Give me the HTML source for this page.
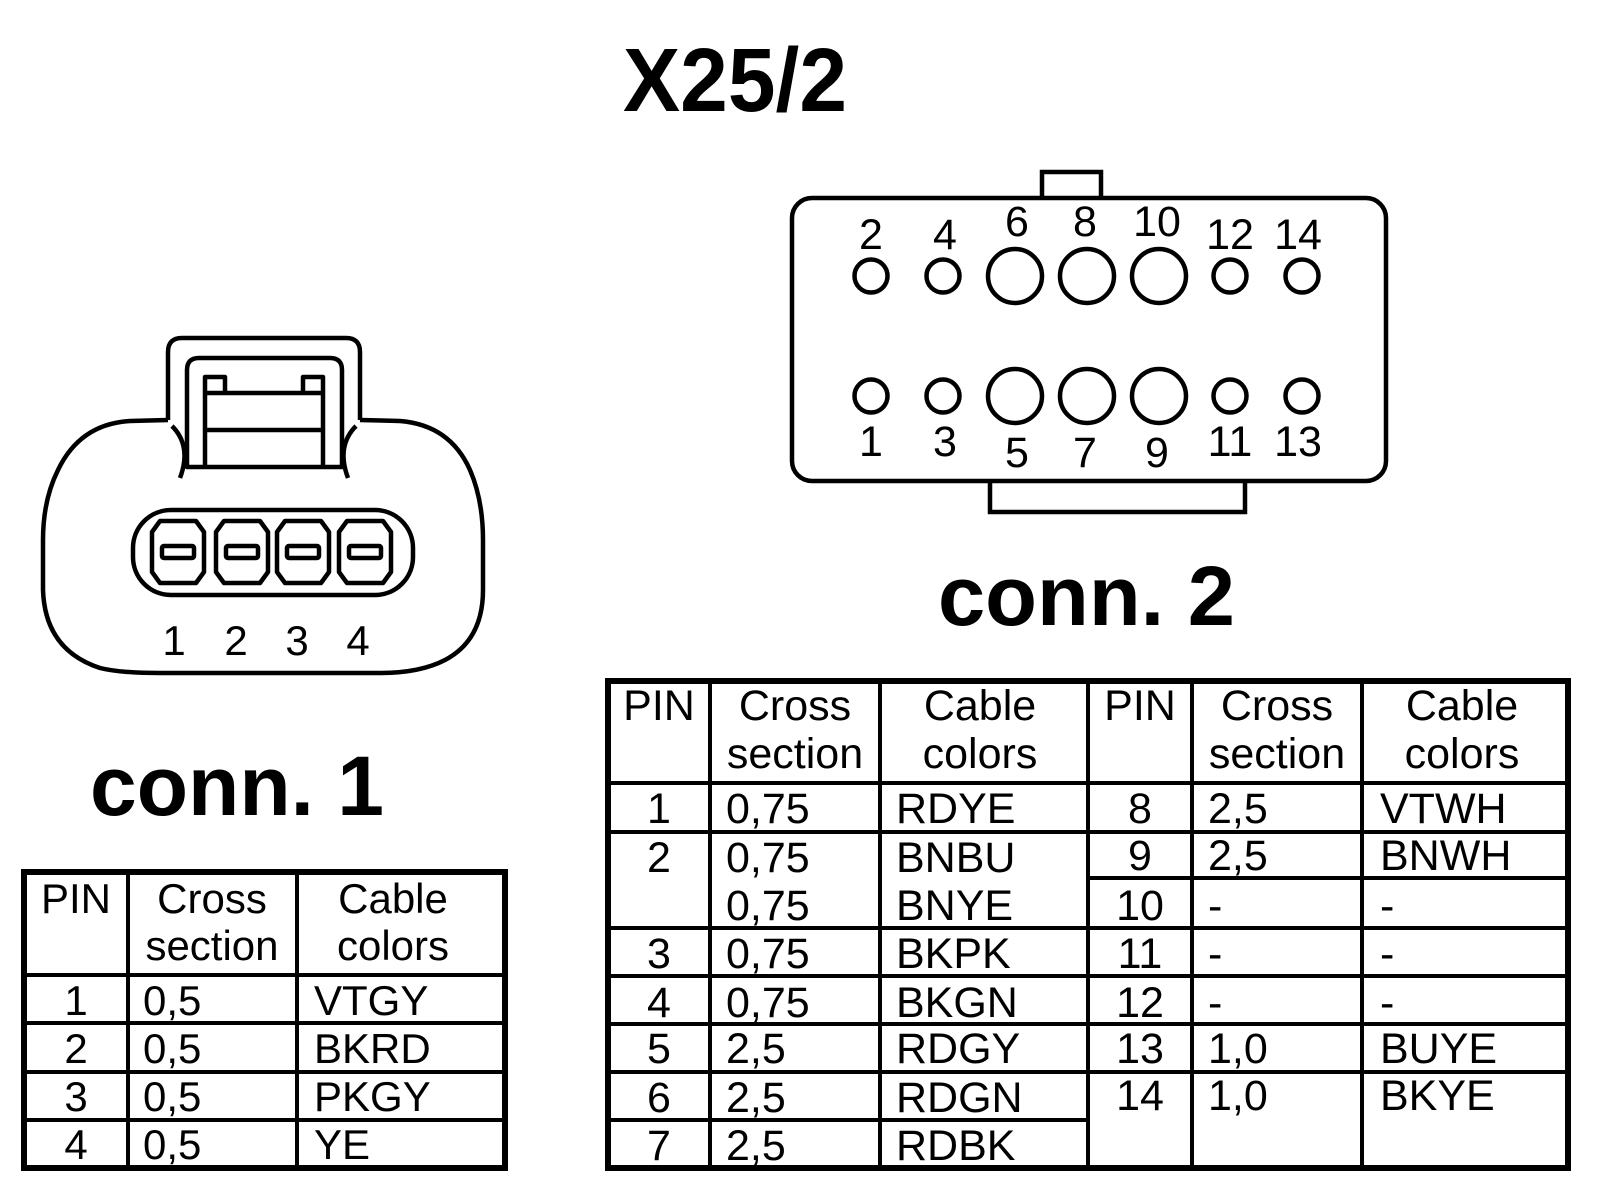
<!DOCTYPE html>
<html><head><meta charset="utf-8"><style>
html,body{margin:0;padding:0;background:#fff;}
svg{display:block;}
text{font-family:"Liberation Sans",Arial,sans-serif;fill:#000;}
</style></head><body>
<svg width="1600" height="1196" viewBox="0 0 1600 1196" xmlns="http://www.w3.org/2000/svg">
<rect width="1600" height="1196" fill="#fff"/>
<text x="623" y="111" font-size="90" font-weight="bold" textLength="224" lengthAdjust="spacingAndGlyphs">X25/2</text>

<g fill="none" stroke="#000" stroke-width="4.5" stroke-linejoin="round">
  <path d="M168 420 L168 352 Q168 338 182 338 L346 338 Q360 338 360 352 L360 420"/>
  <path d="M168 420 L130 421 Q80 424 58 470 Q43 500 43 540 L43 590 Q45 650 100 668 Q120 673 160 673 L380 673 Q420 673 445 660 Q483 640 483 590 L483 540 Q483 500 470 470 Q450 425 400 421 L360 420"/>
  <path d="M172 426 Q192 446 180 478"/>
  <path d="M356 426 Q336 446 348 478"/>
  <path d="M187 467 L187 370 Q187 358 199 358 L330 358 Q342 358 342 370 L342 467 Z"/>
  <path d="M205 467 L205 377 L225 377 L225 393 M323 467 L323 377 L303 377 L303 393 M205 393 L323 393 M205 430 L323 430"/>
  <rect x="133" y="510" width="280" height="85" rx="38"/>
  <g>
    <path d="M160 521 L196 521 L204 532 L204 572 L196 583 L160 583 L152 572 L152 532 Z"/>
    <rect x="162" y="546" width="32" height="12" rx="2"/>
    <path d="M224 521 L260 521 L268 532 L268 572 L260 583 L224 583 L216 572 L216 532 Z"/>
    <rect x="226" y="546" width="32" height="12" rx="2"/>
    <path d="M285 521 L321 521 L329 532 L329 572 L321 583 L285 583 L277 572 L277 532 Z"/>
    <rect x="287" y="546" width="32" height="12" rx="2"/>
    <path d="M347 521 L383 521 L391 532 L391 572 L383 583 L347 583 L339 572 L339 532 Z"/>
    <rect x="349" y="546" width="32" height="12" rx="2"/>
  </g>
</g>
<g font-size="42" text-anchor="middle">
  <text x="174" y="655">1</text><text x="236" y="655">2</text><text x="297" y="655">3</text><text x="358" y="655">4</text>
</g>
<text x="90" y="815" font-size="84" font-weight="bold" textLength="294" lengthAdjust="spacingAndGlyphs">conn. 1</text>

<g fill="none" stroke="#000" stroke-width="4.5">
  <rect x="1042" y="172" width="59" height="27"/>
  <rect x="990" y="478" width="255" height="34"/>
  <rect x="792" y="198" width="594" height="283" rx="20" fill="#fff"/>
  <circle cx="871" cy="276" r="16.5"/><circle cx="943" cy="276" r="16.5"/>
  <circle cx="1015" cy="276" r="27"/><circle cx="1087" cy="276" r="27"/><circle cx="1159" cy="276" r="27"/>
  <circle cx="1230" cy="276" r="16.5"/><circle cx="1302" cy="276" r="16.5"/>
  <circle cx="871" cy="396" r="16.5"/><circle cx="943" cy="396" r="16.5"/>
  <circle cx="1015" cy="396" r="27"/><circle cx="1087" cy="396" r="27"/><circle cx="1159" cy="396" r="27"/>
  <circle cx="1230" cy="396" r="16.5"/><circle cx="1302" cy="396" r="16.5"/>
</g>
<g font-size="43" text-anchor="middle">
  <text x="871" y="249">2</text><text x="945" y="249">4</text>
  <text x="1017" y="236">6</text><text x="1085" y="236">8</text><text x="1157" y="236">10</text>
  <text x="1230" y="249">12</text><text x="1298" y="249">14</text>
  <text x="871" y="456">1</text><text x="945" y="456">3</text>
  <text x="1017" y="467">5</text><text x="1085" y="467">7</text><text x="1157" y="467">9</text>
  <text x="1230" y="456">11</text><text x="1298" y="456">13</text>
</g>
<text x="938" y="625" font-size="84" font-weight="bold" textLength="297" lengthAdjust="spacingAndGlyphs">conn. 2</text>

<g stroke="#000" fill="none">
  <rect x="24" y="872" width="481" height="296" stroke-width="6"/>
  <g stroke-width="4">
    <line x1="128" y1="872" x2="128" y2="1168"/>
    <line x1="297" y1="872" x2="297" y2="1168"/>
    <line x1="24" y1="975" x2="505" y2="975"/>
    <line x1="24" y1="1023" x2="505" y2="1023"/>
    <line x1="24" y1="1072" x2="505" y2="1072"/>
    <line x1="24" y1="1120" x2="505" y2="1120"/>
  </g>
</g>
<g font-size="42">
  <text x="76" y="913" text-anchor="middle">PIN</text>
  <text x="212" y="913" text-anchor="middle">Cross</text>
  <text x="212" y="960" text-anchor="middle">section</text>
  <text x="393" y="913" text-anchor="middle">Cable</text>
  <text x="393" y="960" text-anchor="middle">colors</text>
  <text x="76" y="1015" text-anchor="middle">1</text><text x="143" y="1015">0,5</text><text x="314" y="1015">VTGY</text>
  <text x="76" y="1063" text-anchor="middle">2</text><text x="143" y="1063">0,5</text><text x="314" y="1063">BKRD</text>
  <text x="76" y="1111" text-anchor="middle">3</text><text x="143" y="1111">0,5</text><text x="314" y="1111">PKGY</text>
  <text x="76" y="1159" text-anchor="middle">4</text><text x="143" y="1159">0,5</text><text x="314" y="1159">YE</text>
</g>

<g stroke="#000" fill="none">
  <rect x="608" y="681" width="960" height="487" stroke-width="6"/>
  <g stroke-width="4">
    <line x1="710" y1="681" x2="710" y2="1168"/>
    <line x1="880" y1="681" x2="880" y2="1168"/>
    <line x1="1088" y1="681" x2="1088" y2="1168"/>
    <line x1="1192" y1="681" x2="1192" y2="1168"/>
    <line x1="1362" y1="681" x2="1362" y2="1168"/>
    <line x1="608" y1="783" x2="1568" y2="783"/>
    <line x1="608" y1="832" x2="1568" y2="832"/>
    <line x1="1088" y1="878" x2="1568" y2="878"/>
    <line x1="608" y1="928" x2="1568" y2="928"/>
    <line x1="608" y1="976" x2="1568" y2="976"/>
    <line x1="608" y1="1024" x2="1568" y2="1024"/>
    <line x1="608" y1="1072" x2="1568" y2="1072"/>
    <line x1="608" y1="1120" x2="1088" y2="1120"/>
  </g>
</g>
<g font-size="43">
  <text x="659" y="720" text-anchor="middle">PIN</text>
  <text x="795" y="720" text-anchor="middle">Cross</text>
  <text x="795" y="768" text-anchor="middle">section</text>
  <text x="980" y="720" text-anchor="middle">Cable</text>
  <text x="980" y="768" text-anchor="middle">colors</text>
  <text x="1140" y="720" text-anchor="middle">PIN</text>
  <text x="1277" y="720" text-anchor="middle">Cross</text>
  <text x="1277" y="768" text-anchor="middle">section</text>
  <text x="1462" y="720" text-anchor="middle">Cable</text>
  <text x="1462" y="768" text-anchor="middle">colors</text>

  <text x="659" y="823" text-anchor="middle">1</text><text x="726" y="823">0,75</text><text x="896" y="823">RDYE</text>
  <text x="659" y="872" text-anchor="middle">2</text><text x="726" y="872">0,75</text><text x="896" y="872">BNBU</text>
  <text x="726" y="920">0,75</text><text x="896" y="920">BNYE</text>
  <text x="659" y="968" text-anchor="middle">3</text><text x="726" y="968">0,75</text><text x="896" y="968">BKPK</text>
  <text x="659" y="1017" text-anchor="middle">4</text><text x="726" y="1017">0,75</text><text x="896" y="1017">BKGN</text>
  <text x="659" y="1063" text-anchor="middle">5</text><text x="726" y="1063">2,5</text><text x="896" y="1063">RDGY</text>
  <text x="659" y="1112" text-anchor="middle">6</text><text x="726" y="1112">2,5</text><text x="896" y="1112">RDGN</text>
  <text x="659" y="1160" text-anchor="middle">7</text><text x="726" y="1160">2,5</text><text x="896" y="1160">RDBK</text>

  <text x="1140" y="823" text-anchor="middle">8</text><text x="1208" y="823">2,5</text><text x="1380" y="823">VTWH</text>
  <text x="1140" y="870" text-anchor="middle">9</text><text x="1208" y="870">2,5</text><text x="1380" y="870">BNWH</text>
  <text x="1140" y="920" text-anchor="middle">10</text><text x="1208" y="920">-</text><text x="1380" y="920">-</text>
  <text x="1140" y="968" text-anchor="middle">11</text><text x="1208" y="968">-</text><text x="1380" y="968">-</text>
  <text x="1140" y="1017" text-anchor="middle">12</text><text x="1208" y="1017">-</text><text x="1380" y="1017">-</text>
  <text x="1140" y="1063" text-anchor="middle">13</text><text x="1208" y="1063">1,0</text><text x="1380" y="1063">BUYE</text>
  <text x="1140" y="1110" text-anchor="middle">14</text><text x="1208" y="1110">1,0</text><text x="1380" y="1110">BKYE</text>
</g>
</svg>
</body></html>
